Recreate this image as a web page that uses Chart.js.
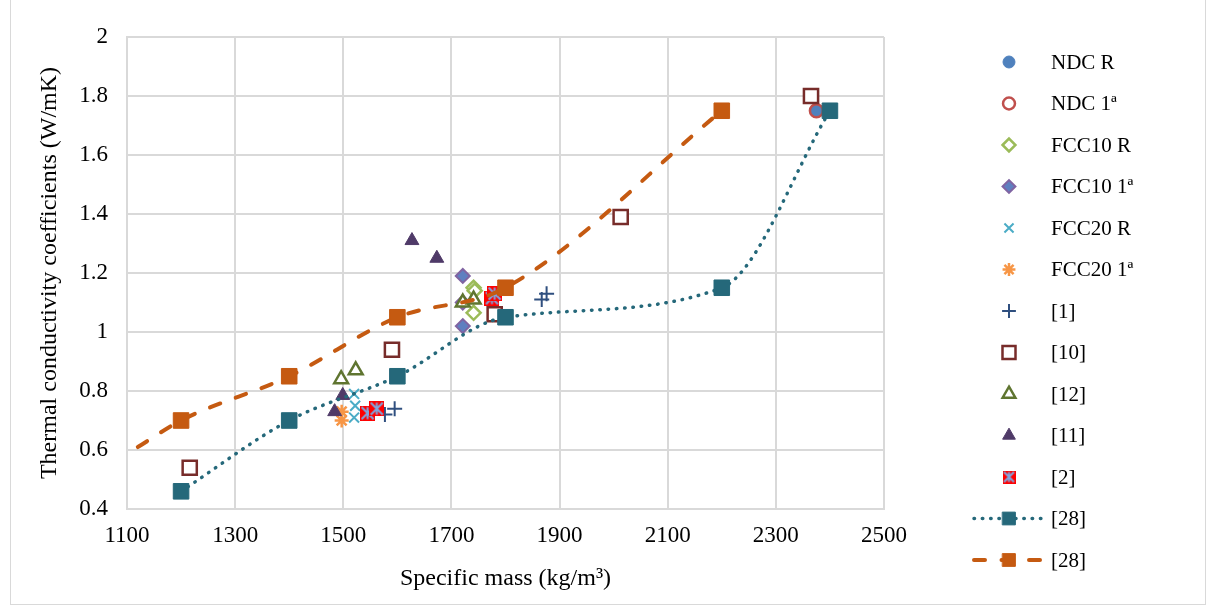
<!DOCTYPE html>
<html>
<head>
<meta charset="utf-8">
<script src="https://cdn.jsdelivr.net/npm/chart.js@4/dist/chart.umd.min.js"></script>
<style>
  body { margin: 0; background: #fff; }
  #wrap { position: relative; width: 1206px; height: 606px; }
  #frame { position: absolute; left: 10px; top: -1px; width: 1194px; height: 604px; border: 1px solid #d9d9d9; pointer-events: none; }
</style>
</head>
<body>
<div id="wrap">
  <canvas id="myChart" width="1206" height="606"></canvas>
  <div id="frame"></div>
</div>
<script>
// series names, in legend order
var seriesNames = ['NDC R', 'NDC 1ª', 'FCC10 R', 'FCC10 1ª', 'FCC20 R', 'FCC20 1ª', '[1]', '[10]', '[12]', '[11]', '[2]', '[28]', '[28]'];

// [specific mass, thermal conductivity]
var ndcR     = [[2375, 1.75]];
var ndc1     = [[2375, 1.75]];
var fcc10R   = [[1741, 1.15], [1743, 1.14], [1741, 1.065]];
var fcc101   = [[1721, 1.19], [1721, 1.10], [1721, 1.02]];
var fcc20R   = [[1520, 0.79], [1522, 0.75], [1520, 0.71], [1777, 1.11]];
var fcc201   = [[1497, 0.73], [1497, 0.70]];
var ref1     = [[1577, 0.72], [1595, 0.74], [1867, 1.11], [1876, 1.13]];
var ref10    = [[1216, 0.54], [1590, 0.94], [1780, 1.06], [2013, 1.39], [2365, 1.80]];
var ref12    = [[1496, 0.84], [1523, 0.87], [1721, 1.10], [1741, 1.11]];
var ref11    = [[1484, 0.73], [1499, 0.785], [1627, 1.31], [1673, 1.25]];
var ref2     = [[1545, 0.725], [1562, 0.74], [1775, 1.115], [1780, 1.13]];
var ref28a   = [[1200, 0.46], [1400, 0.70], [1600, 0.85], [1800, 1.05], [2200, 1.15], [2400, 1.75]];
var ref28b   = [[1120, 0.61], [1200, 0.70], [1400, 0.85], [1600, 1.05], [1800, 1.15], [2200, 1.75]];

var xTicks = [1100, 1300, 1500, 1700, 1900, 2100, 2300, 2500];
var yTicks = [0.4, 0.6, 0.8, 1, 1.2, 1.4, 1.6, 1.8, 2];

function pts(arr) {
    return arr.map(function (p) { return { x: p[0], y: p[1] }; });
}

// red square with blue asterisk for [2]
function makeRefTwoMarker(size) {
    var c = document.createElement('canvas');
    c.width = size; c.height = size;
    var g = c.getContext('2d');
    g.fillStyle = '#ff0000';
    g.fillRect(0, 0, size, size);
    g.strokeStyle = '#7fa6df';
    g.lineWidth = 2;
    var m = size / 2, r = size / 2 - 1.5;
    g.beginPath();
    g.moveTo(m, m - r); g.lineTo(m, m + r);
    g.moveTo(m - r, m - r); g.lineTo(m + r, m + r);
    g.moveTo(m + r, m - r); g.lineTo(m - r, m + r);
    g.stroke();
    return c;
}
var ref2Marker = makeRefTwoMarker(15);
var ref2Legend = makeRefTwoMarker(13);

function scatter(i, data, style, radius, fill, border, bw) {
    return {
        label: seriesNames[i],
        data: pts(data),
        showLine: false,
        pointStyle: style,
        pointRadius: radius,
        pointHoverRadius: radius,
        pointBackgroundColor: fill,
        pointBorderColor: border,
        pointBorderWidth: bw,
        order: 20 - i
    };
}

var datasets = [
    scatter(0, ndcR, 'circle', 6.5, '#4f81bd', '#4f81bd', 1),
    scatter(1, ndc1, 'circle', 6.5, 'rgba(0,0,0,0)', '#c0504d', 2.5),
    scatter(2, fcc10R, 'rectRot', 7, '#ffffff', '#9bbb59', 2.5),
    scatter(3, fcc101, 'rectRot', 7, '#5f7fc0', '#8064a2', 2),
    scatter(4, fcc20R, 'crossRot', 7, '#4bacc6', '#4bacc6', 2),
    scatter(5, fcc201, 'star', 7, '#f79646', '#f79646', 2.5),
    scatter(6, ref1, 'cross', 7.5, '#2f4f7f', '#2f4f7f', 2),
    scatter(7, ref10, 'rect', 10, '#ffffff', '#772c2a', 2.5),
    scatter(8, ref12, 'triangle', 8, '#ffffff', '#5f7530', 2.5),
    scatter(9, ref11, 'triangle', 8, '#4f3a68', '#4f3a68', 1),
    scatter(10, ref2, ref2Marker, 7.5, '#ff0000', '#ff0000', 0),
    {
        label: seriesNames[11],
        data: pts(ref28a),
        showLine: true,
        borderColor: '#25687a',
        borderWidth: 3.5,
        borderDash: [0.5, 7.8],
        borderCapStyle: 'round',
        cubicInterpolationMode: 'monotone',
        pointStyle: 'rect',
        pointRadius: 11,
        pointHoverRadius: 11,
        pointBackgroundColor: '#25687a',
        pointBorderColor: '#25687a',
        pointBorderWidth: 1,
        order: 9
    },
    {
        label: seriesNames[12],
        data: pts(ref28b),
        showLine: true,
        borderColor: '#c55a11',
        borderWidth: 4,
        borderDash: [11, 16.5],
        borderCapStyle: 'round',
        cubicInterpolationMode: 'monotone',
        pointStyle: 'rect',
        pointRadius: function (c) { return c.raw && c.raw.x < 1200 ? 0 : 11; },
        pointHoverRadius: 11,
        pointBackgroundColor: '#c55a11',
        pointBorderColor: '#c55a11',
        pointBorderWidth: 1,
        order: 8
    }
];

// legend on the right, drawn by hand so the line series show line + marker
var sideLegend = {
    id: 'sideLegend',
    afterDraw: function (chart) {
        var ctx = chart.ctx;
        ctx.save();
        chart.data.datasets.forEach(function (ds, i) {
            var x = 1009, y = 62 + i * 41.5;
            if (ds.showLine) {
                ctx.beginPath();
                ctx.setLineDash(ds.borderDash);
                ctx.lineCap = 'round';
                ctx.lineWidth = ds.borderWidth;
                ctx.strokeStyle = ds.borderColor;
                ctx.moveTo(974, y);
                ctx.lineTo(1043, y);
                ctx.stroke();
                ctx.setLineDash([]);
            }
            if (ds.pointStyle === ref2Marker) {
                ctx.drawImage(ref2Legend, x - 6.5, y - 6.5);
            } else {
                var r = ds.showLine ? 9 : (typeof ds.pointRadius === 'number' ? ds.pointRadius * 0.92 : 8);
                ctx.fillStyle = ds.pointBackgroundColor;
                ctx.strokeStyle = ds.pointBorderColor;
                ctx.lineWidth = ds.pointBorderWidth;
                Chart.helpers.drawPoint(ctx, { pointStyle: ds.pointStyle, radius: r, borderWidth: ds.pointBorderWidth, rotation: 0 }, x, y);
            }
            ctx.fillStyle = '#000';
            ctx.font = '21px "Liberation Serif"';
            ctx.textBaseline = 'middle';
            ctx.textAlign = 'left';
            ctx.fillText(ds.label, 1051, y + 1);
        });
        ctx.restore();
    }
};

var ctx = document.getElementById('myChart').getContext('2d');
var chart = new Chart(ctx, {
    type: 'scatter',
    data: { datasets: datasets },
    plugins: [sideLegend],
    options: {
        responsive: false,
        animation: false,
        layout: { padding: { top: 37, right: 322, left: 0, bottom: 0 } },
        plugins: {
            legend: { display: false },
            tooltip: { enabled: false }
        },
        scales: {
            x: {
                type: 'linear',
                min: xTicks[0],
                max: xTicks[xTicks.length - 1],
                afterFit: function (s) { s.height = 97; },
                afterBuildTicks: function (s) { s.ticks = xTicks.map(function (v) { return { value: v }; }); },
                grid: { color: '#d9d9d9', lineWidth: 2, drawTicks: false },
                border: { color: '#d9d9d9', width: 2 },
                ticks: {
                    padding: 13,
                    color: '#000',
                    font: { family: 'Liberation Serif', size: 23 },
                    callback: function (v) { return String(v); }
                },
                title: {
                    display: true,
                    text: 'Specific mass (kg/m³)',
                    color: '#000',
                    font: { family: 'Liberation Serif', size: 24 },
                    padding: { top: 0, bottom: 13 }
                }
            },
            y: {
                type: 'linear',
                min: yTicks[0],
                max: yTicks[yTicks.length - 1],
                afterFit: function (s) { s.width = 127; },
                afterBuildTicks: function (s) { s.ticks = yTicks.map(function (v) { return { value: v }; }); },
                grid: { color: '#d9d9d9', lineWidth: 2, drawTicks: false },
                border: { color: '#d9d9d9', width: 2 },
                ticks: {
                    padding: 19,
                    color: '#000',
                    font: { family: 'Liberation Serif', size: 23 },
                    callback: function (v) { return String(Number(v.toFixed(1))); }
                },
                title: {
                    display: true,
                    text: 'Thermal conductivity coefficients (W/mK)',
                    color: '#000',
                    font: { family: 'Liberation Serif', size: 24 },
                    padding: { top: 35, bottom: 0 }
                }
            }
        }
    }
});
</script>
</body>
</html>
